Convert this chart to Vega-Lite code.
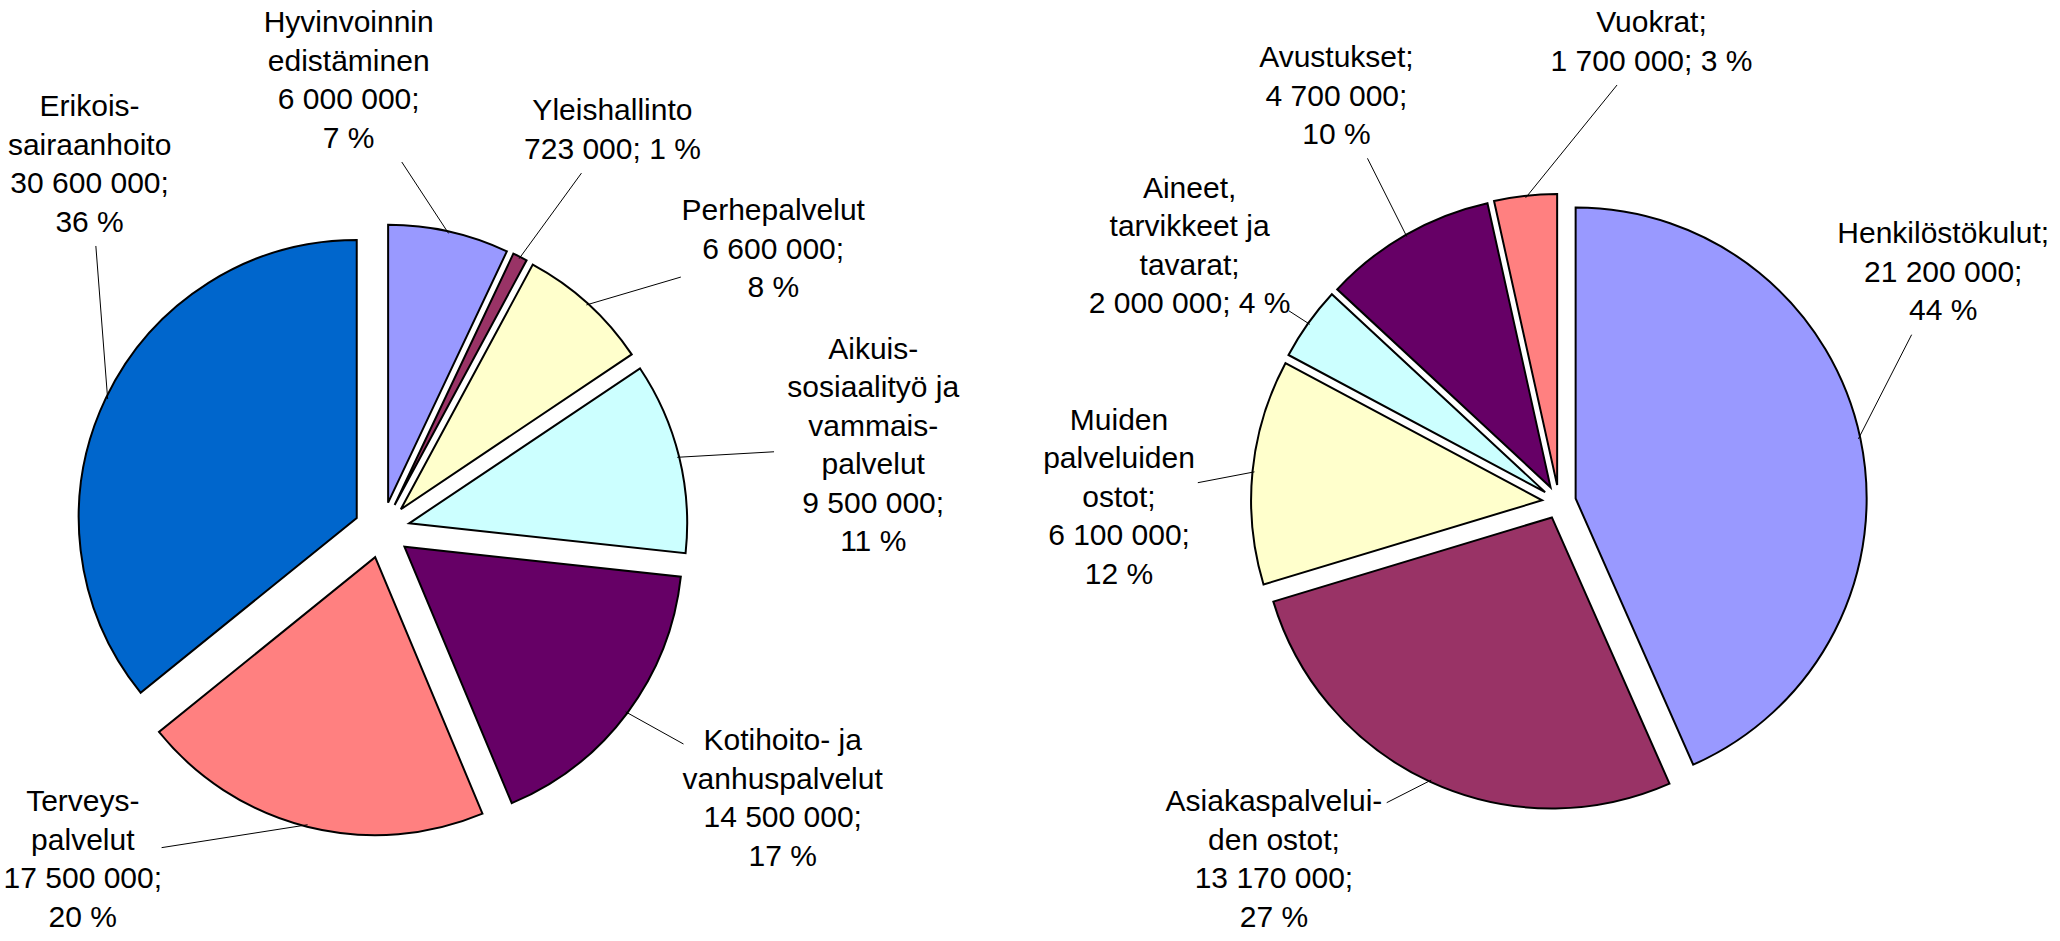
{
  "$schema": "https://vega.github.io/schema/vega-lite/v6.json",
  "background": "#ffffff",
  "padding": 0,
  "spacing": 0,
  "bounds": "flush",
  "config": {"view": {"stroke": null}},
  "datasets": {
    "palvelualueet": [
      {"idx": 1, "category": "Hyvinvoinnin edistäminen", "value": 6000000, "label": "Hyvinvoinnin\nedistäminen\n6 000 000;\n7 %"},
      {"idx": 2, "category": "Yleishallinto", "value": 723000, "label": "Yleishallinto\n723 000; 1 %"},
      {"idx": 3, "category": "Perhepalvelut", "value": 6600000, "label": "Perhepalvelut\n6 600 000;\n8 %"},
      {"idx": 4, "category": "Aikuissosiaalityö ja vammaispalvelut", "value": 9500000, "label": "Aikuis-\nsosiaalityö ja\nvammais-\npalvelut\n9 500 000;\n11 %"},
      {"idx": 5, "category": "Kotihoito- ja vanhuspalvelut", "value": 14500000, "label": "Kotihoito- ja\nvanhuspalvelut\n14 500 000;\n17 %"},
      {"idx": 6, "category": "Terveyspalvelut", "value": 17500000, "label": "Terveys-\npalvelut\n17 500 000;\n20 %"},
      {"idx": 7, "category": "Erikoissairaanhoito", "value": 30600000, "label": "Erikois-\nsairaanhoito\n30 600 000;\n36 %"}
    ],
    "kululajit": [
      {"idx": 1, "category": "Henkilöstökulut", "value": 21200000, "label": "Henkilöstökulut;\n21 200 000;\n44 %"},
      {"idx": 2, "category": "Asiakaspalveluiden ostot", "value": 13170000, "label": "Asiakaspalvelui-\nden ostot;\n13 170 000;\n27 %"},
      {"idx": 3, "category": "Muiden palveluiden ostot", "value": 6100000, "label": "Muiden\npalveluiden\nostot;\n6 100 000;\n12 %"},
      {"idx": 4, "category": "Aineet, tarvikkeet ja tavarat", "value": 2000000, "label": "Aineet,\ntarvikkeet ja\ntavarat;\n2 000 000; 4 %"},
      {"idx": 5, "category": "Avustukset", "value": 4700000, "label": "Avustukset;\n4 700 000;\n10 %"},
      {"idx": 6, "category": "Vuokrat", "value": 1700000, "label": "Vuokrat;\n1 700 000; 3 %"}
    ]
  },
  "resolve": {"scale": {"x": "independent", "y": "independent"}},
  "hconcat": [
    {
      "width": 1030,
      "height": 941,
      "data": {"name": "palvelualueet"},
      "transform": [
        {"window": [{"op": "sum", "field": "value", "as": "cum"}], "sort": [{"field": "idx"}], "frame": [null, 0]},
        {"joinaggregate": [{"op": "sum", "field": "value", "as": "total"}]},
        {"calculate": "(datum.cum - datum.value) / datum.total", "as": "f0"},
        {"calculate": "datum.cum / datum.total", "as": "f1"},
        {"calculate": "PI * (datum.f0 + datum.f1)", "as": "mid"},
        {"calculate": "28 * sin(datum.mid)", "as": "ox"},
        {"calculate": "28 * cos(datum.mid)", "as": "oy"},
        {"window": [{"op": "lag", "field": "mid", "as": "pm0"}, {"op": "lead", "field": "mid", "as": "nm0"}, {"op": "first_value", "field": "mid", "as": "fm"}, {"op": "last_value", "field": "mid", "as": "lm"}], "sort": [{"field": "idx"}], "frame": [null, null]},
        {"calculate": "isValid(datum.pm0) ? datum.pm0 : datum.lm - 2 * PI", "as": "pm"},
        {"calculate": "isValid(datum.nm0) ? datum.nm0 : datum.fm + 2 * PI", "as": "nm"},
        {"calculate": "datum.mid + (max(0, 0.7 - (datum.mid - datum.pm)) - max(0, 0.7 - (datum.nm - datum.mid))) / 2", "as": "la"},
        {"calculate": "split(datum.label, '\\n')", "as": "ln"},
        {"calculate": "max(length(datum.ln[0] || ''), length(datum.ln[1] || ''), length(datum.ln[2] || ''), length(datum.ln[3] || ''), length(datum.ln[4] || ''), length(datum.ln[5] || ''))", "as": "mc"},
        {"calculate": "datum.mc * 6.8 + 4", "as": "hw"},
        {"calculate": "length(datum.ln) * 19.25 + 4", "as": "hh"},
        {"calculate": "-382 + datum.hw + 4", "as": "xmin"},
        {"calculate": "648 - datum.hw - 4", "as": "xmax"},
        {"calculate": "-411 + datum.hh", "as": "ymin"},
        {"calculate": "530 - datum.hh", "as": "ymax"},
        {"calculate": "500 * sin(datum.la)", "as": "px0"},
        {"calculate": "450 * cos(datum.la)", "as": "py0"},
        {"calculate": "clamp(datum.px0, datum.xmin, datum.xmax)", "as": "px1"},
        {"calculate": "datum.px1 != datum.px0 ? (datum.py0 >= 0 ? 1 : -1) * 450 * sqrt(max(0, 1 - pow(datum.px1 / 500, 2))) : datum.py0", "as": "py1"},
        {"calculate": "clamp(datum.py1, datum.ymin, datum.ymax)", "as": "py2"},
        {"calculate": "datum.py2 != datum.py1 ? (datum.px1 >= 0 ? 1 : -1) * 500 * sqrt(max(0, 1 - pow(datum.py2 / 450, 2))) : datum.px1", "as": "px2"},
        {"calculate": "clamp(datum.px2, datum.xmin, datum.xmax)", "as": "lx"},
        {"calculate": "clamp(datum.py2, datum.ymin, datum.ymax)", "as": "ly"},
        {"calculate": "datum.ly + (length(datum.ln) - 1) * 19.25", "as": "ly1"},
        {"calculate": "304 * sin(datum.mid)", "as": "sx"},
        {"calculate": "304 * cos(datum.mid)", "as": "sy"},
        {"calculate": "min(datum.hw / max(abs(datum.sx - datum.lx), 0.001), datum.hh / max(abs(datum.sy - datum.ly), 0.001))", "as": "t"},
        {"calculate": "datum.t >= 1 ? datum.sx : datum.lx + datum.t * (datum.sx - datum.lx)", "as": "tx"},
        {"calculate": "datum.t >= 1 ? datum.sy : datum.ly + datum.t * (datum.sy - datum.ly)", "as": "ty"}
      ],
      "layer": [
        {
          "mark": {"type": "arc", "outerRadius": 278, "stroke": "#000000", "strokeWidth": 2, "strokeJoin": "miter"},
          "encoding": {
            "theta": {"field": "f0", "type": "quantitative", "stack": null, "scale": {"domain": [0, 1]}},
            "theta2": {"field": "f1"},
            "x": {"field": "ox", "type": "quantitative", "scale": {"domain": [-382, 648], "nice": false, "zero": false}, "axis": null},
            "y": {"field": "oy", "type": "quantitative", "scale": {"domain": [-411, 530], "nice": false, "zero": false}, "axis": null},
            "color": {"field": "idx", "type": "nominal", "scale": {"domain": [1, 2, 3, 4, 5, 6, 7], "range": ["#9999FF", "#993366", "#FFFFCC", "#CCFFFF", "#660066", "#FF8080", "#0066CC"]}, "legend": null}
          }
        },
        {
          "mark": {"type": "rule", "stroke": "#000000", "strokeWidth": 1},
          "encoding": {
            "x": {"field": "sx", "type": "quantitative", "scale": {"domain": [-382, 648], "nice": false, "zero": false}, "axis": null},
            "y": {"field": "sy", "type": "quantitative", "scale": {"domain": [-411, 530], "nice": false, "zero": false}, "axis": null},
            "x2": {"field": "tx"},
            "y2": {"field": "ty"}
          }
        },
        {
          "mark": {"type": "text", "font": "Liberation Sans", "fontSize": 30, "lineHeight": 38.5, "align": "center", "baseline": "middle", "lineBreak": "\n", "color": "#000000"},
          "encoding": {
            "x": {"field": "lx", "type": "quantitative", "scale": {"domain": [-382, 648], "nice": false, "zero": false}, "axis": null},
            "y": {"field": "ly1", "type": "quantitative", "scale": {"domain": [-411, 530], "nice": false, "zero": false}, "axis": null},
            "text": {"field": "label"}
          }
        }
      ]
    },
    {
      "width": 1030,
      "height": 941,
      "data": {"name": "kululajit"},
      "transform": [
        {"window": [{"op": "sum", "field": "value", "as": "cum"}], "sort": [{"field": "idx"}], "frame": [null, 0]},
        {"joinaggregate": [{"op": "sum", "field": "value", "as": "total"}]},
        {"calculate": "(datum.cum - datum.value) / datum.total", "as": "f0"},
        {"calculate": "datum.cum / datum.total", "as": "f1"},
        {"calculate": "PI * (datum.f0 + datum.f1)", "as": "mid"},
        {"calculate": "17 * sin(datum.mid)", "as": "ox"},
        {"calculate": "17 * cos(datum.mid)", "as": "oy"},
        {"window": [{"op": "lag", "field": "mid", "as": "pm0"}, {"op": "lead", "field": "mid", "as": "nm0"}, {"op": "first_value", "field": "mid", "as": "fm"}, {"op": "last_value", "field": "mid", "as": "lm"}], "sort": [{"field": "idx"}], "frame": [null, null]},
        {"calculate": "isValid(datum.pm0) ? datum.pm0 : datum.lm - 2 * PI", "as": "pm"},
        {"calculate": "isValid(datum.nm0) ? datum.nm0 : datum.fm + 2 * PI", "as": "nm"},
        {"calculate": "datum.mid + (max(0, 0.7 - (datum.mid - datum.pm)) - max(0, 0.7 - (datum.nm - datum.mid))) / 2", "as": "la"},
        {"calculate": "split(datum.label, '\\n')", "as": "ln"},
        {"calculate": "max(length(datum.ln[0] || ''), length(datum.ln[1] || ''), length(datum.ln[2] || ''), length(datum.ln[3] || ''), length(datum.ln[4] || ''), length(datum.ln[5] || ''))", "as": "mc"},
        {"calculate": "datum.mc * 6.8 + 4", "as": "hw"},
        {"calculate": "length(datum.ln) * 19.25 + 4", "as": "hh"},
        {"calculate": "-529 + datum.hw + 4", "as": "xmin"},
        {"calculate": "501 - datum.hw - 4", "as": "xmax"},
        {"calculate": "-439 + datum.hh", "as": "ymin"},
        {"calculate": "502 - datum.hh", "as": "ymax"},
        {"calculate": "440 * sin(datum.la)", "as": "px0"},
        {"calculate": "470 * cos(datum.la)", "as": "py0"},
        {"calculate": "clamp(datum.px0, datum.xmin, datum.xmax)", "as": "px1"},
        {"calculate": "datum.px1 != datum.px0 ? (datum.py0 >= 0 ? 1 : -1) * 470 * sqrt(max(0, 1 - pow(datum.px1 / 440, 2))) : datum.py0", "as": "py1"},
        {"calculate": "clamp(datum.py1, datum.ymin, datum.ymax)", "as": "py2"},
        {"calculate": "datum.py2 != datum.py1 ? (datum.px1 >= 0 ? 1 : -1) * 440 * sqrt(max(0, 1 - pow(datum.py2 / 470, 2))) : datum.px1", "as": "px2"},
        {"calculate": "clamp(datum.px2, datum.xmin, datum.xmax)", "as": "lx"},
        {"calculate": "clamp(datum.py2, datum.ymin, datum.ymax)", "as": "ly"},
        {"calculate": "datum.ly + (length(datum.ln) - 1) * 19.25", "as": "ly1"},
        {"calculate": "306 * sin(datum.mid)", "as": "sx"},
        {"calculate": "306 * cos(datum.mid)", "as": "sy"},
        {"calculate": "min(datum.hw / max(abs(datum.sx - datum.lx), 0.001), datum.hh / max(abs(datum.sy - datum.ly), 0.001))", "as": "t"},
        {"calculate": "datum.t >= 1 ? datum.sx : datum.lx + datum.t * (datum.sx - datum.lx)", "as": "tx"},
        {"calculate": "datum.t >= 1 ? datum.sy : datum.ly + datum.t * (datum.sy - datum.ly)", "as": "ty"}
      ],
      "layer": [
        {
          "mark": {"type": "arc", "outerRadius": 291, "stroke": "#000000", "strokeWidth": 2, "strokeJoin": "miter"},
          "encoding": {
            "theta": {"field": "f0", "type": "quantitative", "stack": null, "scale": {"domain": [0, 1]}},
            "theta2": {"field": "f1"},
            "x": {"field": "ox", "type": "quantitative", "scale": {"domain": [-529, 501], "nice": false, "zero": false}, "axis": null},
            "y": {"field": "oy", "type": "quantitative", "scale": {"domain": [-439, 502], "nice": false, "zero": false}, "axis": null},
            "color": {"field": "idx", "type": "nominal", "scale": {"domain": [1, 2, 3, 4, 5, 6, 7], "range": ["#9999FF", "#993366", "#FFFFCC", "#CCFFFF", "#660066", "#FF8080", "#0066CC"]}, "legend": null}
          }
        },
        {
          "mark": {"type": "rule", "stroke": "#000000", "strokeWidth": 1},
          "encoding": {
            "x": {"field": "sx", "type": "quantitative", "scale": {"domain": [-529, 501], "nice": false, "zero": false}, "axis": null},
            "y": {"field": "sy", "type": "quantitative", "scale": {"domain": [-439, 502], "nice": false, "zero": false}, "axis": null},
            "x2": {"field": "tx"},
            "y2": {"field": "ty"}
          }
        },
        {
          "mark": {"type": "text", "font": "Liberation Sans", "fontSize": 30, "lineHeight": 38.5, "align": "center", "baseline": "middle", "lineBreak": "\n", "color": "#000000"},
          "encoding": {
            "x": {"field": "lx", "type": "quantitative", "scale": {"domain": [-529, 501], "nice": false, "zero": false}, "axis": null},
            "y": {"field": "ly1", "type": "quantitative", "scale": {"domain": [-439, 502], "nice": false, "zero": false}, "axis": null},
            "text": {"field": "label"}
          }
        }
      ]
    }
  ]
}
